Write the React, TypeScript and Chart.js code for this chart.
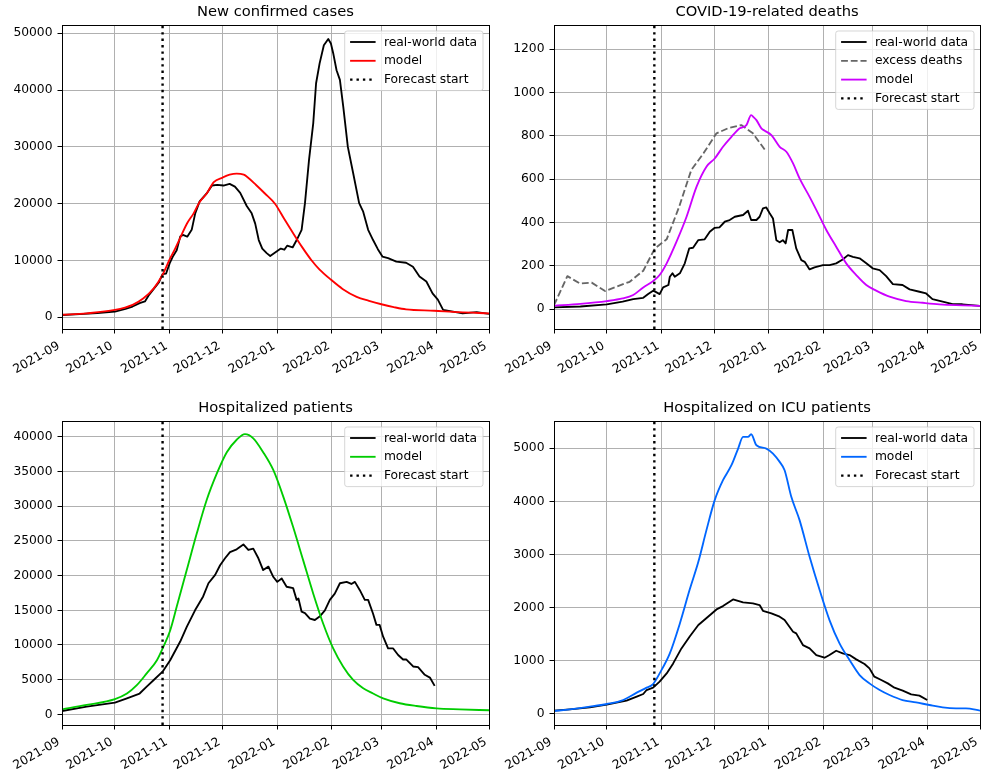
import React, { useEffect, useRef } from 'react';
import { Chart, registerables } from 'chart.js';

Chart.register(...registerables);
Chart.defaults.font.family = "'DejaVu Sans', sans-serif";
Chart.defaults.color = '#000';

// x positions are days since 2021-09-01
const monthTickDays = [0, 30, 61, 91, 122, 153, 181, 212, 242];
const monthTickLabels = ['2021-09', '2021-10', '2021-11', '2021-12', '2022-01', '2022-02', '2022-03', '2022-04', '2022-05'];
const forecastStartDay = 57; // 2021-10-28

const casesTicks = [0, 10000, 20000, 30000, 40000, 50000];
const deathsTicks = [0, 200, 400, 600, 800, 1000, 1200];
const hospTicks = [0, 5000, 10000, 15000, 20000, 25000, 30000, 35000, 40000];
const icuTicks = [0, 1000, 2000, 3000, 4000, 5000];

const casesReal: [number, number][] = [
  [0, 400], [10, 550], [20, 750], [30, 1000], [36, 1500], [40, 1900], [44, 2500], [47, 2800], [49, 3800], [52, 5000],
  [55, 6200], [57, 7600], [59, 7700], [61, 9500], [63, 10800], [65, 11800], [67, 14200], [68.5, 14500], [71, 14200],
  [73.5, 15400], [75.5, 18300], [78, 20400], [82, 21800], [85, 23200], [88, 23300], [91.5, 23200], [95, 23500], [98, 23000],
  [101, 21900], [104.7, 19600], [107.5, 18300], [109.5, 16500], [111.5, 13600], [113.5, 12100], [116, 11300], [118, 10800],
  [121.6, 11600], [124, 12100], [126, 11900], [127.6, 12600], [130.7, 12300], [133, 13600], [135.8, 15400], [137.7, 20100],
  [140, 27700], [142.4, 34200], [144, 41200], [146, 44700], [148.4, 47900], [150.9, 49000], [152.4, 48200], [153.7, 46500],
  [155.6, 43500], [157.5, 41800], [159.4, 37100], [162, 30000], [165, 25400], [168.4, 20100], [170.7, 18600], [173.5, 15400],
  [176.3, 13600], [179, 12000], [181.6, 10700], [184.8, 10400], [189.5, 9800], [195, 9600], [198.9, 8900], [202.6, 7200],
  [206.5, 6300], [210, 4200], [213, 3100], [216, 1300], [221.6, 1000], [227, 700], [235, 900], [242, 600],
];
const casesModel: [number, number][] = [
  [0, 450], [14, 700], [30, 1300], [40, 2200], [46, 3300], [52, 5100], [57, 7500], [61, 10200], [64, 12000], [67, 14000],
  [71, 16600], [74.6, 18300], [78, 20300], [82, 21800], [86, 23800], [91, 24600], [95, 25100], [99, 25300], [103, 25100],
  [105, 24700], [110, 23300], [115, 21800], [120.7, 20000], [126, 17300], [131, 14800], [136, 12400], [141.5, 10000],
  [146, 8400], [152.5, 6600], [159, 5000], [167, 3600], [174, 2900], [181, 2300], [188, 1800], [195, 1400], [211, 1150],
  [225, 900], [242, 700],
];

const deathsReal: [number, number][] = [
  [0, 8], [15, 12], [30, 22], [39, 34], [45, 46], [50.7, 52], [53.5, 69], [56.3, 85], [58, 78], [60, 69], [62, 100], [65, 111],
  [65.8, 149], [67.3, 165], [68.6, 149], [71.5, 165], [74.3, 211], [76.8, 280], [79, 283], [81.9, 318], [85.6, 322], [88.5, 357],
  [91.3, 375], [94, 377], [97, 403], [99.8, 411], [102.7, 426], [107.4, 434], [110.2, 454], [112, 411], [115, 411], [116.8, 426],
  [118.7, 465], [120.6, 469], [122.5, 442], [124.4, 418], [126.3, 318], [128.2, 308], [130, 318], [131.6, 303], [133, 365],
  [135.4, 365], [137.6, 280], [140.5, 226], [142.4, 218], [145.2, 183], [148, 192], [152.8, 203], [156.5, 203], [160.3, 211],
  [164, 229], [167, 249], [169.8, 241], [173.6, 234], [177.4, 211], [181, 188], [185, 180], [188.7, 152], [192.5, 115],
  [198, 111], [202, 91], [207.6, 80], [211.4, 72], [215, 46], [220.8, 34], [226.5, 23], [232, 22], [242, 15],
];
const deathsExcess: [number, number][] = [
  [0, 18], [7.6, 152], [14.7, 118], [21.4, 122], [29, 83], [36, 105], [43, 126], [50.7, 177], [57.3, 280], [64, 322],
  [71, 470], [78, 642], [85, 720], [92.3, 811], [99, 835], [106.4, 849], [113, 811], [120.6, 726],
];
const deathsModel: [number, number][] = [
  [0, 15], [15, 24], [30, 37], [39, 49], [45, 65], [50.7, 100], [56.3, 129], [60, 157], [64, 211], [69.6, 311], [75.3, 426],
  [81, 565], [86.6, 657], [91.3, 695], [96, 749], [100.8, 795], [105.5, 834], [109.3, 849], [112, 895], [113.5, 885],
  [115, 872], [117.8, 834], [119.7, 823], [123.5, 803], [128.2, 749], [132, 726], [135.8, 672], [139.5, 603], [145.2, 518],
  [150, 442], [154.7, 365], [160.3, 288], [166, 211], [171.7, 157], [177.4, 111], [183, 85], [190.6, 57], [200, 37],
  [209.5, 29], [219, 22], [228.4, 18], [242, 15],
];

const hospReal: [number, number][] = [
  [0, 480], [14, 1100], [30, 1680], [36.8, 2300], [44, 3000], [48, 4000], [52, 4950], [57, 6150], [61.3, 7800], [67, 10500],
  [70.7, 12600], [75.4, 15000], [80, 17000], [83, 18900], [86.8, 20100], [89.6, 21500], [92.4, 22500], [95.2, 23400],
  [99, 23800], [102.8, 24500], [105.6, 23700], [108.4, 23900], [111.3, 22500], [114, 20800], [117, 21300], [119.8, 19800],
  [122, 19100], [124.5, 19600], [127.3, 18400], [131, 18200], [133, 16500], [134, 16700], [135.8, 14800], [137.7, 14600],
  [140.5, 13800], [143.3, 13600], [146, 14100], [149, 15000], [151.8, 16500], [154.6, 17400], [157.5, 18900], [161.3, 19100],
  [164, 18800], [166, 19100], [168.8, 17900], [171.6, 16500], [173.5, 16500], [176.3, 14500], [178.2, 12900], [180, 12900],
  [182, 11200], [184.8, 9500], [187.7, 9500], [190.5, 8550], [193.3, 7900], [195.2, 7900], [199, 6900], [201.8, 6800],
  [205.6, 5700], [208.5, 5300], [211.2, 4100],
];
const hospModel: [number, number][] = [
  [0, 720], [14, 1350], [30, 2200], [36.8, 3000], [42.4, 4200], [48, 5900], [53.8, 7800], [57.5, 9750], [61.3, 12100],
  [65, 15500], [70.7, 20800], [76.4, 26100], [82, 30900], [87.7, 34700], [93.4, 37800], [99, 39600], [103.7, 40400],
  [108.4, 39800], [114, 37800], [119.8, 35200], [125.4, 31400], [131, 27000], [136.7, 22200], [142.4, 17400], [148, 13100],
  [153.7, 9500], [159.3, 6900], [165, 4950], [170.7, 3750], [176.3, 3000], [182, 2300], [191.4, 1600], [200.9, 1200],
  [212.2, 860], [225.4, 720], [242, 580],
];

const icuReal: [number, number][] = [
  [0, 63], [9, 88], [20.4, 125], [30, 175], [35.5, 213], [41.2, 250], [47, 326], [50.7, 376], [52.6, 451], [56.3, 495],
  [60, 608], [64, 764], [67.7, 952], [72.4, 1234], [77, 1454], [82, 1673], [87.5, 1830], [92.3, 1967], [96, 2030],
  [101.7, 2155], [107.4, 2099], [113, 2080], [116.8, 2049], [118.7, 1942], [123.5, 1892], [128.2, 1830], [131, 1767],
  [135.8, 1548], [137.6, 1516], [141.4, 1297], [145.2, 1234], [149, 1109], [153.7, 1059], [156.5, 1109], [160.3, 1190],
  [164, 1140], [167.9, 1109], [171.7, 1028], [176.4, 940], [179.2, 858], [182, 702], [185.9, 639], [189.6, 576],
  [193.4, 495], [198.1, 439], [202.9, 370], [207.6, 345], [212, 263],
];
const icuModel: [number, number][] = [
  [0, 56], [9, 88], [20.4, 138], [30, 188], [39.3, 263], [47, 401], [52.6, 495], [56.3, 564], [60, 764], [65.8, 1140],
  [71.5, 1704], [77, 2331], [82, 2863], [86.6, 3459], [91.3, 4023], [96, 4398], [100.8, 4680], [104.6, 4994], [107.4, 5213],
  [110.2, 5213], [112, 5263], [115, 5056], [120.6, 4994], [124.4, 4900], [128.2, 4743], [131, 4586], [134.8, 4085],
  [139.5, 3647], [145.2, 2957], [150.9, 2331], [156.5, 1767], [162.2, 1328], [167.9, 1015], [173.6, 733], [179.2, 576],
  [185, 451], [190.6, 357], [198, 263], [205.7, 219], [213.3, 169], [220.8, 125], [228.4, 107], [234, 107], [242, 63],
];

type Series = {
  label: string;
  points: [number, number][];
  color: string;
  dash?: number[];
  width?: number;
  smooth?: boolean;
  order: number;
};

type PanelProps = {
  x: number;
  y: number;
  w: number;
  h: number;
  padTop: number;
  padRight: number;
  axisW: number;
  axisH: number;
  title: string;
  series: Series[];
  yMin: number;
  yMax: number;
  yTicks: number[];
};

const TICK_FONT = 12.3;
const TITLE_FONT = 14.7;
const FONT_FAMILY = "'DejaVu Sans', sans-serif";

function makeDecor(title: string, series: Series[]) {
  return {
    id: 'mplDecor',
    afterDraw(chart: any) {
      const ctx: CanvasRenderingContext2D = chart.ctx;
      const a = chart.chartArea;
      const al = (v: number) => Math.round(v - 0.5) + 0.5;
      ctx.save();
      // spines
      ctx.strokeStyle = '#000';
      ctx.lineWidth = 1;
      ctx.setLineDash([]);
      ctx.strokeRect(al(a.left), al(a.top), al(a.right) - al(a.left), al(a.bottom) - al(a.top));
      // x tick labels (rotated 30°, right/top aligned bounding box)
      const xs = chart.scales.x;
      ctx.font = `${TICK_FONT}px ${FONT_FAMILY}`;
      ctx.fillStyle = '#000';
      const th = Math.PI / 6;
      const cs = Math.cos(th), sn = Math.sin(th);
      const asc = 0.928 * TICK_FONT, desc = 0.236 * TICK_FONT;
      const y0 = a.bottom + 9;
      monthTickDays.forEach((d, i) => {
        const label = monthTickLabels[i];
        const px = xs.getPixelForValue(d);
        const W = ctx.measureText(label).width;
        const ox = px - W * cs - desc * sn;
        const oy = y0 + W * sn + asc * cs;
        ctx.save();
        ctx.translate(ox, oy);
        ctx.rotate(-th);
        ctx.textAlign = 'left';
        ctx.textBaseline = 'alphabetic';
        ctx.fillText(label, 0, 0);
        ctx.restore();
      });
      // title
      ctx.font = `${TITLE_FONT}px ${FONT_FAMILY}`;
      ctx.textAlign = 'center';
      ctx.textBaseline = 'middle';
      ctx.fillText(title, (a.left + a.right) / 2, a.top - 12.5);
      // legend
      ctx.font = `${TICK_FONT}px ${FONT_FAMILY}`;
      const pad = 4.9, handle = 24.5, gap = 9.8, rowH = 18.8, edge = 11;
      let maxW = 0;
      series.forEach((s) => { maxW = Math.max(maxW, ctx.measureText(s.label).width); });
      const bw = pad + handle + gap + maxW + pad + 1;
      const bh = 2 * edge + (series.length - 1) * rowH;
      const bx = a.right - 6 - bw;
      const by = a.top + 6;
      ctx.beginPath();
      const r = 2.5;
      ctx.moveTo(bx + r, by);
      ctx.lineTo(bx + bw - r, by);
      ctx.arcTo(bx + bw, by, bx + bw, by + r, r);
      ctx.lineTo(bx + bw, by + bh - r);
      ctx.arcTo(bx + bw, by + bh, bx + bw - r, by + bh, r);
      ctx.lineTo(bx + r, by + bh);
      ctx.arcTo(bx, by + bh, bx, by + bh - r, r);
      ctx.lineTo(bx, by + r);
      ctx.arcTo(bx, by, bx + r, by, r);
      ctx.closePath();
      ctx.fillStyle = 'rgba(255,255,255,0.8)';
      ctx.fill();
      ctx.strokeStyle = 'rgba(204,204,204,0.8)';
      ctx.lineWidth = 1;
      ctx.stroke();
      series.forEach((s, i) => {
        const cy = by + edge + i * rowH;
        ctx.beginPath();
        ctx.strokeStyle = s.color;
        ctx.lineWidth = s.width ?? 1.85;
        ctx.setLineDash(s.dash ?? []);
        ctx.moveTo(bx + pad + 0.5, cy);
        ctx.lineTo(bx + pad + handle + 1.5, cy);
        ctx.stroke();
        ctx.setLineDash([]);
        ctx.fillStyle = '#000';
        ctx.textAlign = 'left';
        ctx.textBaseline = 'middle';
        ctx.fillText(s.label, bx + pad + handle + gap, cy + 0.5);
      });
      ctx.restore();
    },
  };
}

function Panel(p: PanelProps) {
  const ref = useRef<HTMLCanvasElement>(null);
  useEffect(() => {
    const canvas = ref.current;
    if (!canvas) return;
    const chart = new Chart(canvas, {
      type: 'line',
      data: {
        datasets: p.series.map((s) => ({
          label: s.label,
          data: s.points.map(([x, y]) => ({ x, y })),
          borderColor: s.color,
          backgroundColor: s.color,
          borderWidth: s.width ?? 1.85,
          borderDash: s.dash ?? [],
          borderCapStyle: 'butt',
          borderJoinStyle: 'round',
          pointRadius: 0,
          tension: 0,
          cubicInterpolationMode: s.smooth ? 'monotone' : 'default',
          fill: false,
          order: s.order,
        })),
      },
      options: {
        responsive: false,
        animation: false,
        devicePixelRatio: 1,
        events: [],
        layout: { padding: { top: p.padTop, left: 0, right: p.padRight, bottom: 0 } },
        plugins: {
          legend: { display: false },
          tooltip: { enabled: false },
          title: { display: false },
        },
        scales: {
          x: {
            type: 'linear',
            min: 0,
            max: 242,
            afterBuildTicks: (s: any) => {
              s.ticks = monthTickDays.map((v) => ({ value: v }));
            },
            afterFit: (s: any) => {
              s.height = p.axisH;
              s.paddingLeft = 0;
              s.paddingRight = 0;
            },
            ticks: {
              display: false,
              autoSkip: false,
              callback: (_v: any, i: number) => monthTickLabels[i],
            },
            grid: { color: '#b0b0b0', lineWidth: 1, tickLength: 4.5, tickColor: '#000', drawTicks: true },
            border: { display: false },
          },
          y: {
            type: 'linear',
            min: p.yMin,
            max: p.yMax,
            afterBuildTicks: (s: any) => {
              s.ticks = p.yTicks.map((v) => ({ value: v }));
            },
            afterFit: (s: any) => {
              s.width = p.axisW;
              s.paddingTop = 0;
              s.paddingBottom = 0;
            },
            ticks: {
              padding: 5,
              color: '#000',
              font: { size: TICK_FONT },
              callback: (v: any) => String(v),
            },
            grid: { color: '#b0b0b0', lineWidth: 1, tickLength: 4.5, tickColor: '#000', drawTicks: true },
            border: { display: false },
          },
        },
      } as any,
      plugins: [makeDecor(p.title, p.series)],
    });
    return () => chart.destroy();
  }, []);
  return (
    <canvas
      ref={ref}
      width={p.w}
      height={p.h}
      style={{ position: 'absolute', left: p.x, top: p.y, width: p.w, height: p.h }}
    />
  );
}

const forecastSeries = (yMin: number, yMax: number): Series => ({
  label: 'Forecast start',
  points: [[forecastStartDay, yMin], [forecastStartDay, yMax]],
  color: '#000',
  dash: [2.4, 4.0],
  width: 2.4,
  order: 0,
});

export default function App() {
  const cMin = -2060, cMax = 51460;
  const dMin = -92, dMax = 1311;
  const hMin = -1540, hMax = 42300;
  const iMin = -207, iMax = 5512;
  return (
    <div style={{ position: 'fixed', left: 0, top: 0, width: 981, height: 776, background: '#fff' }}>
      <Panel
        x={0} y={0} w={490} h={390} padTop={25} padRight={1} axisW={62} axisH={61}
        title="New confirmed cases" yMin={cMin} yMax={cMax} yTicks={casesTicks}
        series={[
          { label: 'real-world data', points: casesReal, color: '#000', order: 3 },
          { label: 'model', points: casesModel, color: '#ff0000', smooth: true, order: 2 },
          forecastSeries(cMin, cMax),
        ]}
      />
      <Panel
        x={490} y={0} w={491} h={390} padTop={25} padRight={1} axisW={64} axisH={61}
        title="COVID-19-related deaths" yMin={dMin} yMax={dMax} yTicks={deathsTicks}
        series={[
          { label: 'real-world data', points: deathsReal, color: '#000', order: 3 },
          { label: 'excess deaths', points: deathsExcess, color: '#666666', dash: [6.8, 2.9], order: 2.5 },
          { label: 'model', points: deathsModel, color: '#cc00ff', smooth: true, order: 2 },
          forecastSeries(dMin, dMax),
        ]}
      />
      <Panel
        x={0} y={390} w={490} h={386} padTop={31} padRight={1} axisW={62} axisH={51}
        title="Hospitalized patients" yMin={hMin} yMax={hMax} yTicks={hospTicks}
        series={[
          { label: 'real-world data', points: hospReal, color: '#000', order: 3 },
          { label: 'model', points: hospModel, color: '#00cc00', smooth: true, order: 2 },
          forecastSeries(hMin, hMax),
        ]}
      />
      <Panel
        x={490} y={390} w={491} h={386} padTop={31} padRight={1} axisW={64} axisH={51}
        title="Hospitalized on ICU patients" yMin={iMin} yMax={iMax} yTicks={icuTicks}
        series={[
          { label: 'real-world data', points: icuReal, color: '#000', order: 3 },
          { label: 'model', points: icuModel, color: '#0066ff', smooth: true, order: 2 },
          forecastSeries(iMin, iMax),
        ]}
      />
    </div>
  );
}
